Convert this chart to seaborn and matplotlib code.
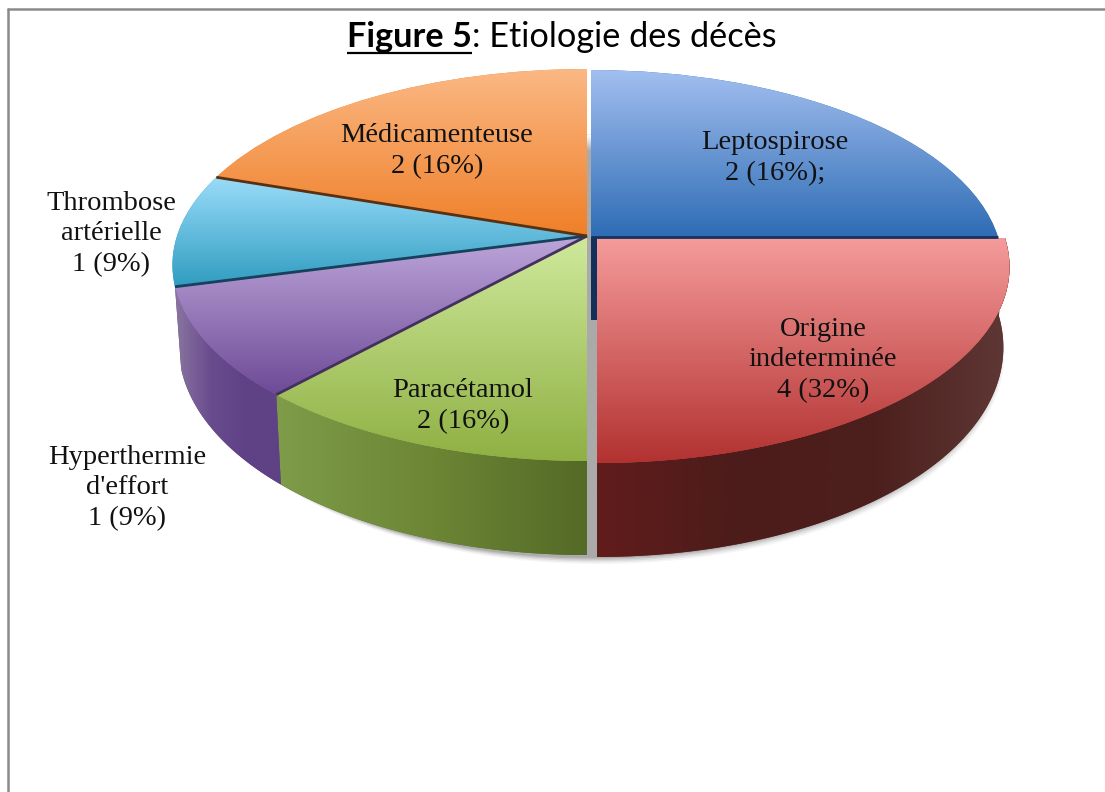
import numpy as np
import matplotlib
matplotlib.use("Agg")
import matplotlib.pyplot as plt
from matplotlib.path import Path
from matplotlib.patches import PathPatch
from matplotlib.transforms import Transform
import seaborn as sns

# ---- data ----
names = ["Leptospirose", "Origine\nindeterminée", "Paracétamol",
         "Hyperthermie\nd'effort", "Thrombose\nartérielle", "Médicamenteuse"]
count_labels = ["2 (16%);", "4 (32%)", "2 (16%)", "1 (9%)", "1 (9%)", "2 (16%)"]
drawn_shares = [25.0, 25.0, 11.8, 9.1, 9.3, 19.8]   # slice sizes as they appear
title_bold = "Figure 5"
title_rest = ": Etiologie des décès"

# ---- styles ----
top_colors = [("#a2bff0", "#2e6cb4"), ("#f59b9b", "#b23230"), ("#cfe99c", "#8fb043"),
              ("#bda6da", "#6d4a96"), ("#9adcf9", "#2f9cc0"), ("#fbb884", "#ef7f28")]
wall_colors = [None, ("#611c1c", "#4c1c1a", "#4c1f1d", "#5f3835"),
               ("#7e9c49", "#6c8635", "#546a27"),
               ("#8a76a0", "#694c8e", "#5f4285", "#5f4285"), None, None]
edge_colors = ["#16325c", None, None, "#43305f", "#16405c", "#5a3010"]
apex = [(591, 237), (597, 238), (587, 236), (587, 236), (587, 236), (587, 236)]
radii = [407.0, 408.0, 410.0, 410.0, 410.0, 410.0]
label_pos = [(775, 158), (823, 360), (463, 406), (127, 488), (111, 234), (437, 151)]
A, B = 191.7, 0.148


class Flatten(Transform):
    """Perspective view of the unit-circle pie, optionally on its lower face."""
    input_dims = output_dims = 2
    has_inverse = False

    def __init__(self, cx, cy, lower=False, radius=410.0):
        super().__init__()
        self.cx, self.cy, self.lower, self.radius = cx, cy, lower, radius

    def transform_non_affine(self, xy):
        xy = np.asarray(xy, float)
        u, v = xy[:, 0], xy[:, 1]
        w = 1 + B * v
        sx = self.radius * (0.985 if self.lower else 1.0)
        x = self.cx + sx * u / w
        y = self.cy - A * v / w
        if self.lower:
            y = y + 78 - 16 * v
        return np.column_stack([x, y])


sns.set_theme(style="white")
fig = plt.figure(figsize=(11.05, 7.92), dpi=100, facecolor="white")
ax = fig.add_axes([0, 0, 1, 1])
wedges, _ = ax.pie(drawn_shares, startangle=90, counterclock=False, radius=1,
                   colors=[c[1] for c in top_colors], wedgeprops=dict(linewidth=0))
ax.set_aspect("auto")
ax.set_xlim(0, 1105)
ax.set_ylim(792, 0)
ax.set_autoscale_on(False)


def gradient(cols, extent, vertical, clip, z):
    cmap = sns.blend_palette(list(cols), as_cmap=True)
    g = np.linspace(0, 1, 256)
    arr = g[:, None] if vertical else g[None, :]
    im = ax.imshow(arr, cmap=cmap, extent=extent, aspect="auto",
                   interpolation="bilinear", vmin=0, vmax=1, zorder=z)
    im.set_clip_path(clip)
    return im


# soft shadow under the pie
circle = Path.unit_circle()
for k, alpha in zip([10, 8, 6, 4, 2], [0.05, 0.08, 0.11, 0.15, 0.2]):
    sh = Flatten(593 + 0.6 * k, 238 + 0.7 * k, lower=True, radius=407)
    ax.add_patch(PathPatch(sh.transform_path(circle), fc="#555555", ec="none",
                           alpha=alpha, zorder=1))

# grey seen through the gaps between exploded slices (white above it)
body = Path.make_compound_path(Flatten(591, 237).transform_path(circle),
                               Flatten(592, 238, lower=True).transform_path(circle))
body_patch = PathPatch(body, fc="none", ec="none", transform=ax.transData, zorder=2)
ax.add_patch(body_patch)
gradient(["#ffffff"] + ["#aaaaaa"] * 29, (560, 620, 570, 135), True, body_patch, 2)

# outer walls
for i, (w, cols) in enumerate(zip(wedges, wall_colors)):
    if cols is None:
        continue
    t = np.radians(np.linspace(w.theta1, w.theta2, 120))
    pts = np.column_stack([np.cos(t), np.sin(t)])
    up = Flatten(*apex[i], radius=radii[i]).transform(pts)
    lo = Flatten(*apex[i], lower=True, radius=radii[i]).transform(pts)
    poly = np.vstack([up, lo[::-1]])
    patch = ax.fill(poly[:, 0], poly[:, 1], color=cols[-1], lw=0, zorder=3)[0]
    gradient(cols, (poly[:, 0].min(), poly[:, 0].max(), poly[:, 1].max(), poly[:, 1].min()),
             False, patch, 3)

# dark cut face of the first slice, seen between it and the second one
ax.fill_between([apex[0][0], apex[1][0]], apex[0][1], apex[0][1] + 83,
                color="#12305a", lw=0, zorder=3)

# top surfaces
for i, w in enumerate(wedges):
    tr = Flatten(*apex[i], radius=radii[i])
    w.set_transform(tr + ax.transData)
    w.set_zorder(4)
    box = tr.transform_path(w.get_path()).get_extents()
    gradient(top_colors[i], (box.x0, box.x1, box.y1, box.y0), True, w, 4)

# separators along the lower radial edge of the slices
for i, w in enumerate(wedges):
    if edge_colors[i] is None:
        continue
    ang = w.theta1 if i == 0 else w.theta2
    a = np.radians(ang)
    p = Flatten(*apex[i], radius=radii[i]).transform(np.array([[0, 0], [np.cos(a), np.sin(a)]]))
    ax.plot(p[:, 0], p[:, 1], color=edge_colors[i], lw=2.0, zorder=5, solid_capstyle="butt")

# labels
serif = ["Liberation Serif", "DejaVu Serif"]
for name, cnt, (x, y) in zip(names, count_labels, label_pos):
    ax.text(x, y, name + "\n" + cnt, ha="center", va="center", fontsize=20.5,
            family=serif, color="#111111", linespacing=1.31, zorder=6)

# title with underlined bold part
fig.canvas.draw()
rend = fig.canvas.get_renderer()
t1 = ax.text(347, 47, title_bold, fontsize=24.7, fontweight="bold", family="Lato",
             color="black", ha="left", va="baseline", zorder=6)
bb = t1.get_window_extent(rend)
t2 = ax.text(bb.x1, 47, title_rest, fontsize=24.7, family="Lato",
             color="black", ha="left", va="baseline", zorder=6)
ax.plot([347, bb.x1], [53, 53], color="black", lw=1.6, zorder=6, solid_capstyle="butt")

# frame lines of the original picture
ax.plot([7.5, 7.5], [8.5, 792], color="#8a8a8a", lw=1.8, zorder=0)
ax.plot([7.5, 1105], [8.5, 8.5], color="#8a8a8a", lw=1.8, zorder=0)

ax.set_axis_off()
fig.savefig("out.png", dpi=100, facecolor="white")
